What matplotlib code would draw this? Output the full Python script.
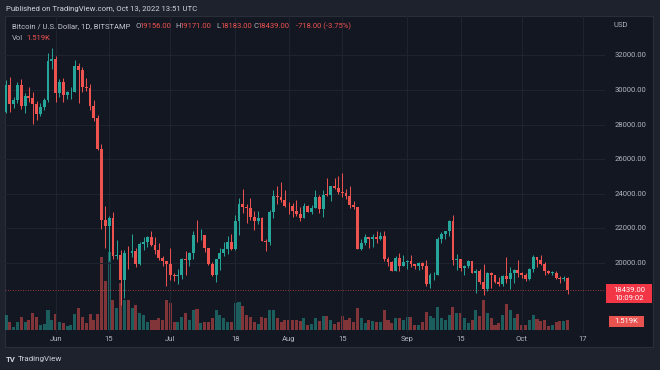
import matplotlib
matplotlib.use("Agg")
import matplotlib.pyplot as plt
from matplotlib.patches import Rectangle
import numpy as np

plt.rcParams['font.family'] = ['Roboto', 'DejaVu Sans']

# BTC/USD daily, Bitstamp, 19 May 2022 -> 13 Oct 2022
opens = [28700, 30300, 29200, 29430, 30290, 29100, 29650, 29540, 29200, 28620,
         29020, 29450, 31700, 31800, 29800, 30470, 29700, 29860, 29900, 31370,
         31130, 30200, 30100, 29080, 28400, 26570, 22480, 22140, 22580, 20380,
         20450, 19000, 20570, 20560, 20720, 19970, 21100, 21230, 21500, 21030,
         20730, 20280, 20100, 19930, 19300, 19250, 19300, 20230, 20190, 20550,
         21640, 21590, 21590, 20850, 19960, 19330, 20210, 20590, 20830, 21190,
         20790, 22430, 23400, 23230, 23160, 22680, 22450, 22580, 21300, 21240,
         22950, 23850, 23800, 23650, 23300, 23270, 22990, 22820, 22620, 23310,
         22960, 23180, 23810, 23150, 23950, 23930, 24440, 24350, 24100, 24050,
         23860, 23330, 23210, 20830, 21140, 21520, 21400, 21530, 21370, 21560,
         20240, 20040, 19550, 20290, 19800, 20050, 20130, 19950, 19830, 20000,
         19800, 18800, 19290, 19320, 21360, 21650, 21830, 22400, 20170, 20230,
         19700, 19800, 20110, 19420, 19540, 18880, 18490, 19400, 19290, 18920,
         18800, 19230, 19080, 19410, 19590, 19420, 19310, 19060, 19630, 20340,
         20160, 19960, 19530, 19420, 19440, 19130, 19060, 19156]
highs = [30550, 30770, 29620, 30460, 30650, 29800, 30200, 29860, 29370, 29250,
         29550, 32150, 32400, 31980, 30650, 30680, 29950, 30170, 31760, 31560,
         31330, 30680, 30340, 29410, 28550, 26870, 23300, 22700, 22960, 21330,
         20750, 20780, 21000, 21700, 20870, 21200, 21520, 21580, 21850, 21500,
         21180, 20400, 20140, 20870, 19430, 19640, 20280, 20700, 20650, 21830,
         22500, 21950, 21600, 20850, 20060, 20260, 20870, 21200, 21560, 21680,
         22780, 23780, 24280, 23430, 23760, 22990, 23000, 22670, 21360, 23050,
         24200, 24450, 24660, 24200, 23500, 23460, 23650, 23230, 23450, 23380,
         23380, 24230, 23930, 24230, 24900, 24450, 24900, 25050, 25200, 24250,
         24450, 23600, 23210, 21380, 21680, 21520, 21660, 21840, 21800, 21860,
         20350, 20140, 20380, 20550, 20480, 20190, 20440, 19960, 20030, 20050,
         20180, 19450, 19460, 21500, 21800, 21850, 22500, 22780, 20540, 20200,
         19900, 20190, 20110, 19680, 19640, 19950, 19500, 19480, 19300, 19180,
         19300, 20340, 19780, 19650, 20180, 19480, 19400, 19700, 20470, 20370,
         20460, 20050, 19620, 19530, 19520, 19260, 19220, 19171]
lows = [28680, 28730, 28950, 29230, 28890, 28650, 29310, 28020, 28260, 28470,
        28840, 29320, 31200, 29330, 29600, 29300, 29480, 29500, 29880, 29220,
        29870, 29950, 28860, 28200, 26560, 21940, 20850, 20100, 20230, 20240,
        17600, 17960, 19650, 20350, 19780, 19900, 20740, 20930, 20970, 20520,
        20200, 19850, 18650, 19000, 18980, 18770, 19050, 19300, 19800, 20250,
        21200, 21320, 20660, 19900, 19250, 18900, 19620, 20390, 20500, 20770,
        20770, 21600, 22900, 22340, 22500, 21900, 22280, 21250, 20720, 21060,
        22600, 23430, 23540, 23240, 22850, 22680, 22700, 22430, 22590, 22920,
        22850, 23160, 22890, 22680, 23900, 23600, 24300, 24000, 23800, 23700,
        23200, 23100, 20800, 20760, 21060, 20890, 20900, 21140, 21320, 20120,
        19820, 19550, 19550, 19530, 19800, 19650, 19760, 19650, 19600, 19640,
        18680, 18540, 19020, 19300, 21130, 21400, 21580, 19870, 19620, 19540,
        19330, 19700, 19400, 18240, 18780, 18150, 18400, 18540, 18820, 18650,
        18690, 18830, 18500, 18860, 19180, 19160, 18950, 19000, 19500, 19750,
        19860, 19330, 19350, 19310, 19050, 18870, 18980, 18183]
closes = opens[1:] + [18439]
volumes = [2.3, 1.2, 0.5, 1.2, 2.0, 1.2, 1.5, 2.6, 2.0, 0.8,
           0.9, 3.0, 1.5, 2.4, 1.2, 1.1, 0.6, 0.8, 2.4, 3.3,
           2.0, 1.1, 2.4, 1.5, 2.4, 11.0, 7.5, 11.8, 4.5, 3.3,
           7.1, 4.5, 4.5, 3.3, 3.8, 2.6, 2.3, 1.2, 1.5, 1.5,
           1.8, 1.5, 4.5, 4.1, 1.2, 1.2, 2.0, 2.6, 1.5, 3.0,
           3.2, 1.1, 1.2, 1.2, 1.8, 3.0, 2.3, 1.8, 1.2, 1.2,
           4.1, 4.2, 3.6, 2.3, 2.0, 1.2, 0.9, 2.0, 1.8, 3.0,
           3.0, 1.8, 1.2, 1.5, 1.5, 1.5, 1.5, 1.4, 1.8, 0.8,
           0.9, 1.8, 1.4, 2.1, 2.1, 1.5, 0.9, 1.2, 2.1, 1.5,
           1.8, 1.2, 3.3, 1.8, 1.1, 1.5, 1.4, 1.2, 1.2, 3.0,
           1.5, 1.1, 1.8, 1.8, 1.5, 2.0, 2.0, 0.8, 0.8, 1.2,
           2.7, 2.1, 1.8, 3.5, 1.8, 1.5, 2.3, 3.5, 2.6, 2.6,
           1.8, 1.1, 1.5, 3.0, 2.1, 4.5, 2.6, 1.8, 0.8, 1.1,
           2.3, 3.9, 3.0, 1.8, 2.4, 0.8, 0.8, 1.5, 2.3, 1.7,
           1.4, 1.5, 0.6, 0.8, 1.2, 1.4, 1.4, 1.519]

tick_idx = [13, 27, 43, 60, 74, 88, 105, 119, 135, 151]
tick_labels = ['Jun', '15', 'Jul', '18', 'Aug', '15', 'Sep', '15', 'Oct', '17']
price_ticks = [20000, 22000, 24000, 26000, 28000, 30000, 32000]

W, H = 660, 370
UP, DOWN = '#26a69a', '#ef5350'
TXT = '#b2b5be'
BG_OUT = '#1e222d'
BG_PANE = '#131722'
GRID = '#1f2431'
FS = 5.5

def fx(x):
    return x / W

def fy(y):
    return 1 - y / H

fig = plt.figure(figsize=(6.6, 3.7), dpi=100, facecolor=BG_OUT)

# chart frame
fig.patches.append(Rectangle((fx(5), fy(347)), fx(648), 331 / H, transform=fig.transFigure,
                             facecolor=BG_PANE, edgecolor='#2a2e39', lw=0.8, zorder=-10))

n = len(opens)
x = np.arange(n)
o = np.array(opens, float)
c = np.array(closes, float)
hi = np.array(highs, float)
lo = np.array(lows, float)
up = c >= o
cols = np.where(up, UP, DOWN)

# volume pane (drawn behind price)
axv = fig.add_axes([fx(5), fy(330), 600 / W, 314 / H], zorder=1)
axv.patch.set_alpha(0)
axv.set_xlim(-0.26, 156.8)
axv.set_ylim(0, 314 / 6.6)
axv.bar(x, volumes, width=0.8, color=cols, alpha=0.5, lw=0)
axv.axis('off')

ax = fig.add_axes([fx(5), fy(333), 600 / W, 317 / H], zorder=2)
ax.patch.set_alpha(0)
ax.set_xlim(-0.26, 156.8)
ax.set_ylim(15954, 34277)
for t in tick_idx:
    ax.axvline(t, color=GRID, lw=0.7, zorder=0)
for p in price_ticks:
    ax.axhline(p, color=GRID, lw=0.7, zorder=0)
ax.vlines(x, lo, hi, colors=cols, lw=0.7, zorder=2)
body = np.maximum(np.abs(c - o), 35)
ax.bar(x, body, bottom=np.minimum(o, c), width=0.75, color=cols, lw=0, zorder=3)
ax.axhline(closes[-1], color=DOWN, lw=0.6, ls=(0, (1, 2)), alpha=0.8, zorder=1)
for s in ax.spines.values():
    s.set_visible(False)
ax.set_xticks([])
ax.set_yticks([])

# price scale labels
for p in price_ticks:
    y = 263 - (p - 20000) * 0.0173
    fig.text(fx(615), fy(y), f'{p}.00', color=TXT, fontsize=FS, va='center', ha='left')
fig.text(fx(614), fy(25), 'USD', color=TXT, fontsize=FS, va='center', ha='left')

# time labels
for t, lab in zip(tick_idx, tick_labels):
    fig.text(fx(6 + t * 3.82), fy(339), lab, color=TXT, fontsize=FS, va='center', ha='center')

# last price tags
fig.patches.append(Rectangle((fx(606), fy(303)), 46 / W, 19 / H, transform=fig.transFigure,
                             facecolor='#f23645', edgecolor='none', zorder=3))
fig.text(fx(629), fy(289.5), '18439.00', color='white', fontsize=FS, ha='center', va='center', zorder=4)
fig.text(fx(629), fy(297.5), '10:09:02', color='white', fontsize=FS, ha='center', va='center', zorder=4)
fig.patches.append(Rectangle((fx(609), fy(326.5)), 35 / W, 11 / H, transform=fig.transFigure,
                             facecolor='#e8524f', edgecolor='none', zorder=3))
fig.text(fx(626.5), fy(321), '1.519K', color='white', fontsize=FS, ha='center', va='center', zorder=4)

# header
fig.text(fx(6), fy(9), 'Published on TradingView.com, Oct 13, 2022 13:51 UTC', color='#d1d4dc',
         fontsize=5.6, va='center', ha='left')
hy = fy(26.5)
fig.text(fx(12), hy, 'Bitcoin / U.S. Dollar, 1D, BITSTAMP', color='#c3c6ce', fontsize=FS, va='center')
parts = [(135, 'O', TXT), (139.5, '19156.00', DOWN), (175, 'H', TXT), (179.5, '19171.00', DOWN),
         (216, 'L', TXT), (220, '18183.00', DOWN), (253, 'C', TXT), (257.5, '18439.00', DOWN),
         (296, '-718.00 (-3.75%)', DOWN)]
for px, s, col in parts:
    fig.text(fx(px), hy, s, color=col, fontsize=FS, va='center')
fig.text(fx(12), fy(38), 'Vol', color=TXT, fontsize=FS, va='center')
fig.text(fx(26), fy(38), '1.519K', color=DOWN, fontsize=FS, va='center')

# footer logo
fig.text(fx(6), fy(359), 'TV', color='#d1d4dc', fontsize=5.6, fontweight='bold', va='center')
fig.text(fx(18), fy(359), 'TradingView', color='#d1d4dc', fontsize=5.8, va='center')

fig.savefig('out.png', dpi=100, facecolor=BG_OUT)
